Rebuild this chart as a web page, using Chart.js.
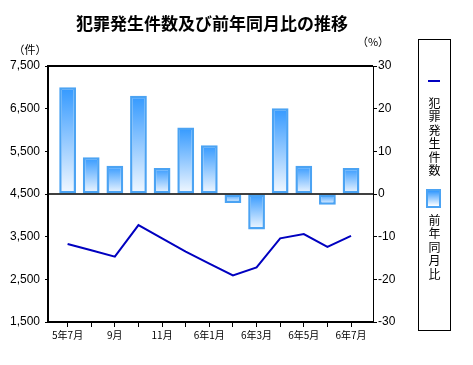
<!DOCTYPE html>
<html lang="ja">
<head>
<meta charset="utf-8">
<script src="https://cdn.jsdelivr.net/npm/chart.js@4"></script>
<style>
  body { margin: 0; background: #fff; }
  #wrap { position: relative; width: 473px; height: 365px; }
  #legend {
    position: absolute; left: 418px; top: 39px; width: 31px; height: 290px;
    border: 1px solid #000; font: 12px "Noto Sans CJK JP", sans-serif; color: #000;
  }
  #legend .vt { position: absolute; left: 0; width: 31px; text-align: center; line-height: 13.4px; }
  #legend .ln { position: absolute; left: 9px; top: 40px; width: 12px; height: 2px; background: #0000c0; }
  #legend .bx {
    position: absolute; left: 7px; top: 149px; width: 11px; height: 15px;
    border: 2px solid #4ba3f3; background: linear-gradient(#3399ff, #ffffff);
  }
</style>
</head>
<body>
<div id="wrap">
  <canvas id="crimeChart" width="473" height="365"></canvas>
  <div id="legend">
    <div class="ln"></div>
    <div class="vt" id="lgLine" style="top:56px"></div>
    <div class="bx"></div>
    <div class="vt" id="lgBar" style="top:173px"></div>
  </div>
</div>
<script>
const chartTitle = '犯罪発生件数及び前年同月比の推移';
const months = ['5年7月', '8月', '9月', '10月', '11月', '12月', '6年1月', '2月', '3月', '4月', '5月', '6月', '7月'];
const tickLabels = ['5年7月', '', '9月', '', '11月', '', '6年1月', '', '6年3月', '', '6年5月', '', '6年7月'];
const crimeCounts = [3330, 3180, 3030, 3770, 3460, 3150, 2870, 2590, 2780, 3460, 3560, 3260, 3520];
const yoyChange = [25.0, 8.6, 6.6, 23.0, 6.1, 15.6, 11.4, -2.1, -8.3, 20.1, 6.6, -2.5, 6.1];
const countTicks = { min: 1500, max: 7500, step: 1000 };
const pctTicks = { min: -30, max: 30, step: 10 };
const seriesNames = ['犯罪発生件数', '前年同月比'];

const numFont = { family: '"Liberation Sans", Arial, sans-serif', size: 12 };
const jpFont = '"Noto Sans CJK JP", sans-serif';

// vertical legend text, one char per line
document.getElementById('lgLine').innerHTML = seriesNames[0].split('').join('<br>');
document.getElementById('lgBar').innerHTML = seriesNames[1].split('').join('<br>');

const barFill = (c) => {
    const chart = c.chart;
    if (!chart.chartArea || !c.parsed) return '#3399ff';
    const s = chart.scales.y2;
    const a = s.getPixelForValue(0), b = s.getPixelForValue(c.parsed.y);
    const top = Math.min(a, b), bottom = Math.max(a, b);
    if (bottom - top < 1) return '#3399ff';
    const g = chart.ctx.createLinearGradient(0, top, 0, bottom);
    g.addColorStop(0, '#3399ff');
    g.addColorStop(1, '#f4f9ff');
    return g;
};

const extras = {
    id: 'extras',
    afterDatasetsDraw(chart) {
        const { ctx, chartArea } = chart;
        const y0 = chart.scales.y2.getPixelForValue(0);
        ctx.save();
        ctx.strokeStyle = '#000';
        ctx.lineWidth = 1.5;
        ctx.beginPath();
        ctx.moveTo(chartArea.left, y0);
        ctx.lineTo(chartArea.right, y0);
        ctx.stroke();
        ctx.lineWidth = 2;
        ctx.beginPath();
        ctx.moveTo(chartArea.left - 1, chartArea.top);
        ctx.lineTo(chartArea.right, chartArea.top);
        ctx.stroke();
        ctx.restore();
    },
    afterDraw(chart) {
        const { ctx, chartArea } = chart;
        ctx.save();
        ctx.fillStyle = '#000';
        ctx.textAlign = 'center';
        ctx.textBaseline = 'middle';
        ctx.font = 'bold 17px ' + jpFont;
        ctx.fillText(chartTitle, 212, 24);
        ctx.font = '11px ' + jpFont;
        ctx.fillText('（件）', 30, 50);
        ctx.fillText('（%）', chartArea.right, 42);
        ctx.restore();
    }
};

new Chart(document.getElementById('crimeChart'), {
    type: 'bar',
    data: {
        datasets: [{
            type: 'line',
            label: seriesNames[0],
            data: crimeCounts.map((v, i) => ({ x: i, y: v })),
            yAxisID: 'y',
            borderColor: '#0000c0',
            borderWidth: 2,
            pointRadius: 0,
            tension: 0,
            order: 1
        }, {
            label: seriesNames[1],
            data: yoyChange.map((v, i) => ({ x: i, y: v })),
            yAxisID: 'y2',
            backgroundColor: barFill,
            borderColor: '#4ba3f3',
            borderWidth: 2.5,
            borderSkipped: false,
            categoryPercentage: 1,
            barPercentage: 0.71,
            order: 2
        }]
    },
    options: {
        responsive: false,
        animation: false,
        layout: { padding: { left: 0, right: 60, top: 66, bottom: 18 } },
        plugins: { legend: { display: false }, tooltip: { enabled: false } },
        scales: {
            x: {
                type: 'linear',
                offset: false,
                min: -0.83,
                max: 12.93,
                afterBuildTicks: s => { s.ticks = months.map((_, i) => ({ value: i })); },
                afterFit: s => { s.height = 25; },
                ticks: {
                    autoSkip: false, maxRotation: 0, padding: 2, color: '#000',
                    font: { family: jpFont, size: 10 },
                    callback: (v, i) => tickLabels[i]
                },
                grid: { drawOnChartArea: false, offset: false, tickLength: 5, color: '#000' },
                border: { color: '#000', width: 2 }
            },
            y: {
                position: 'left',
                min: countTicks.min,
                max: countTicks.max,
                afterFit: s => { s.width = 48; },
                ticks: {
                    stepSize: countTicks.step, padding: 5, color: '#000', font: numFont,
                    callback: v => v.toLocaleString('en-US')
                },
                grid: { drawOnChartArea: false, tickLength: 3, color: '#000' },
                border: { color: '#000', width: 2 }
            },
            y2: {
                position: 'right',
                min: pctTicks.min,
                max: pctTicks.max,
                afterFit: s => { s.width = 40; },
                ticks: { stepSize: pctTicks.step, padding: 1, color: '#000', font: numFont },
                grid: { drawOnChartArea: false, tickLength: 4, color: '#000' },
                border: { color: '#000', width: 1 }
            }
        }
    },
    plugins: [extras]
});
</script>
</body>
</html>
